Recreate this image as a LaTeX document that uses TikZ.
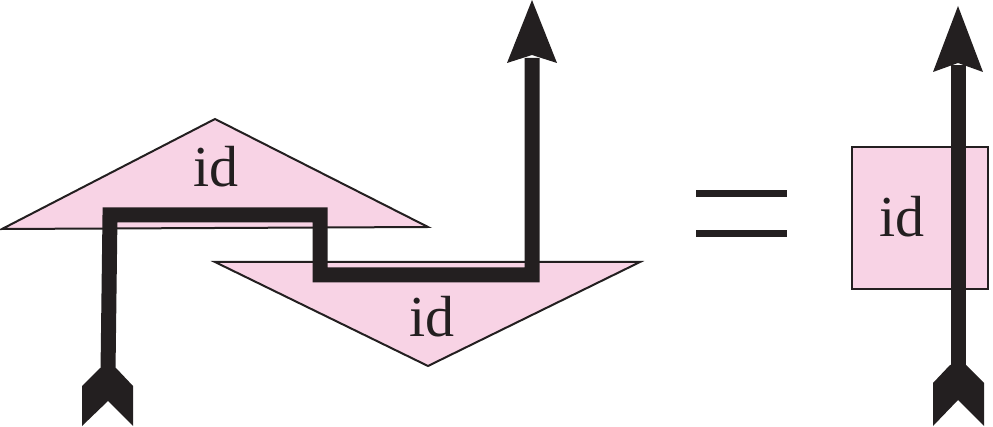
\documentclass[tikz,border=0pt]{standalone}
\usepackage{tikz}
\usetikzlibrary{positioning}
\usepackage{xcolor}
\usepackage{fontspec}
\setmainfont{Liberation Serif}

\definecolor{ink}{HTML}{231F20}
\definecolor{idpink}{HTML}{F8D3E5}

\tikzset{
    idshape/.style={fill=idpink, draw=ink, line width=2pt, line join=miter},
    idlabel/.style={inner sep=0pt, text=ink, font=\fontsize{58}{62}\selectfont},
    wire/.style={draw=ink, line width=15pt, line join=miter},
}

\begin{document}
\begin{tikzpicture}[x=1pt, y=-1pt]
    \useasboundingbox (0,0) rectangle (993,427);

    % Upper triangle
    \path[idshape] (215,119) -- (428,227) -- (2,229) -- cycle;
    \node[idlabel] (idtop) at (216,167) {id};

    % Lower triangle
    \path[idshape] (215,262) -- (640,262) -- (428,366) -- cycle;
    \node[idlabel] (idbot) at (432,317) {id};

    % Zig-zag wire
    \coordinate (tailL) at (108,372);
    \coordinate (cornerA) at (110,215);
    \coordinate (cornerB) at (320,215);
    \coordinate (cornerC) at (320,275);
    \coordinate (cornerD) at (532,275);
    \coordinate (headL) at (532,58);
    \draw[wire] (tailL) -- (cornerA) -- (cornerB) -- (cornerC) -- (cornerD) -- (headL);

    % Tail and head of the wire
    \fill[ink] (100,368) -- (82,386) -- (82,426) -- (108,401) -- (133,426) -- (133,386) -- (116,368) -- cycle;
    \fill[ink] (532,0) -- (557,63) -- (532,55) -- (507,63) -- cycle;

    % Equals sign
    \coordinate (eqA) at (696,194);
    \coordinate (eqB) at (787,194);
    \coordinate (eqC) at (696,234);
    \coordinate (eqD) at (787,234);
    \draw[draw=ink, line width=7pt] (eqA) -- (eqB);
    \draw[draw=ink, line width=7pt] (eqC) -- (eqD);

    % Box on the right
    \path[idshape] (852,147) rectangle (988,289);
    \node[idlabel] (idbox) at (902,217) {id};

    % Straight wire
    \coordinate (tailR) at (958,370);
    \coordinate (headR) at (958,65);
    \draw[wire] (tailR) -- (headR);
    \fill[ink] (950,365) -- (933,383) -- (933,426) -- (958,400) -- (984,426) -- (984,383) -- (966,365) -- cycle;
    \fill[ink] (958,6) -- (983,72) -- (958,63) -- (933,72) -- cycle;

\end{tikzpicture}
\end{document}
